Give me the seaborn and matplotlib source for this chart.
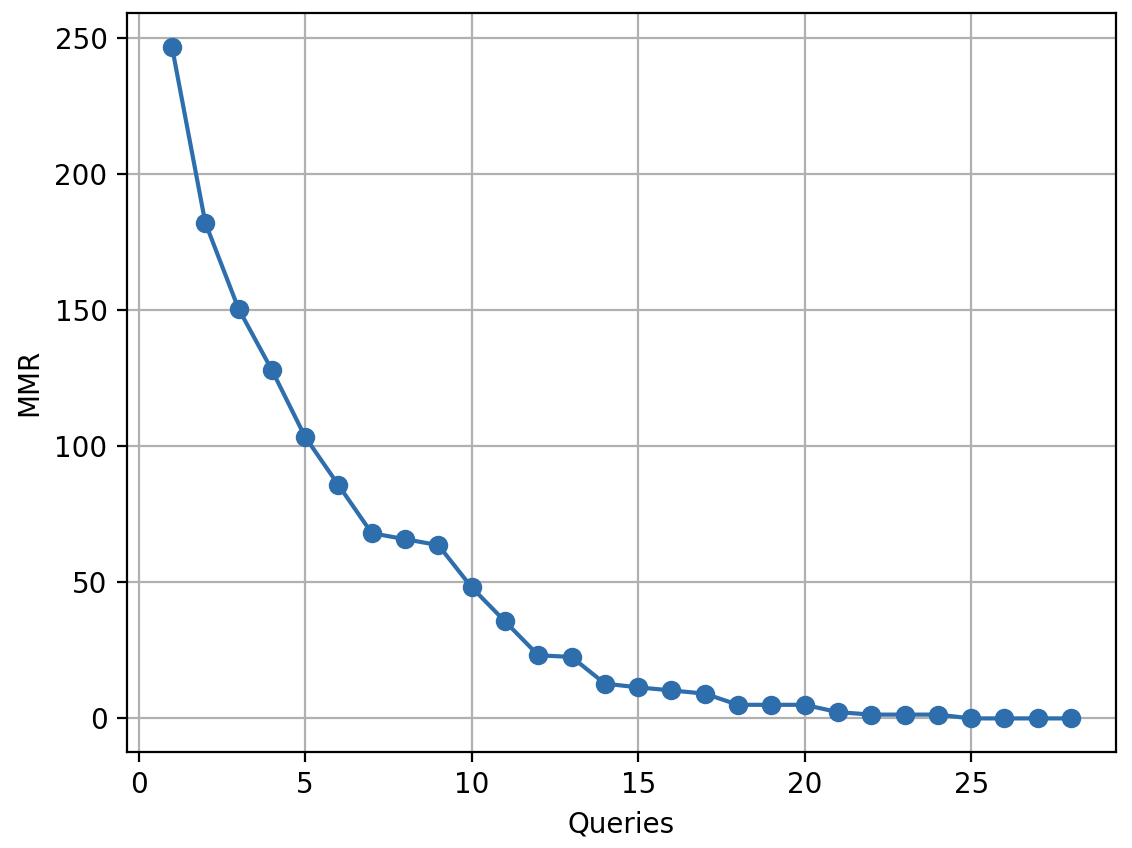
import numpy as np
import pandas as pd
import matplotlib
matplotlib.use("Agg")
import matplotlib.pyplot as plt
import seaborn as sns

queries = list(range(1, 29))
mmr = [247, 182.3, 150.6, 128.1, 103.5, 85.8, 68.1, 65.9, 63.7, 48.2,
       35.7, 23.2, 22.6, 12.8, 11.4, 10.3, 9.1, 5.0, 5.0, 5.0,
       2.3, 1.4, 1.4, 1.4, 0.0, 0.0, 0.0, 0.0]

df = pd.DataFrame({"Queries": queries, "MMR": mmr})

sns.set_style("ticks")
plt.rcParams['font.family'] = ['DejaVu Sans']

line_color = "#2f6eac"
f, ax = plt.subplots(figsize=(5.66, 4.24), dpi=200)
sns.lineplot(data=df, x="Queries", y="MMR", ax=ax, color=line_color,
             marker="o", markersize=6, markeredgewidth=1,
             markeredgecolor=line_color, linewidth=1.5)

ax.grid(True, color="#b0b0b0", linewidth=0.8)
ax.set_axisbelow(True)
for s in ax.spines.values():
    s.set_color("black")
    s.set_linewidth(0.8)
ax.tick_params(axis="both", colors="black", labelcolor="black",
               labelsize=10, width=0.8, length=3.5)
ax.set_xlabel("Queries", fontsize=10, color="black")
ax.set_ylabel("MMR", fontsize=10, color="black")
ax.set_xticks([0, 5, 10, 15, 20, 25])
ax.set_yticks([0, 50, 100, 150, 200, 250])

plt.subplots_adjust(left=127 / 1132, right=1116 / 1132,
                    top=1 - 13 / 848, bottom=1 - 752 / 848)
plt.savefig("out.png", dpi=200)
